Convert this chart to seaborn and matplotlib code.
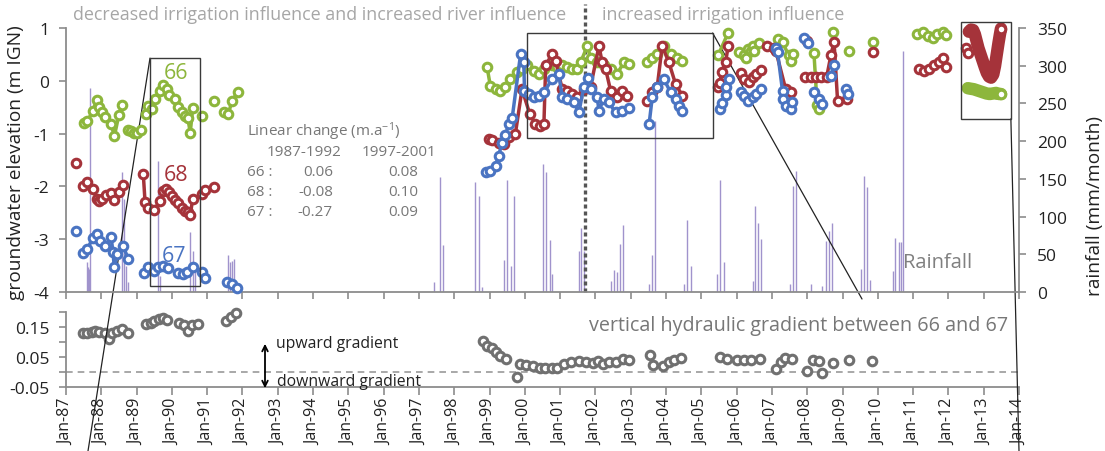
import numpy as np
import pandas as pd
import matplotlib
matplotlib.use("Agg")
import matplotlib.pyplot as plt
from matplotlib.patches import Rectangle, FancyArrowPatch, ConnectionPatch
import seaborn as sns

# ---------------- groundwater heads (m IGN) ----------------
# piezometer 66 (shallow)
w66_year = [1987.51, 1987.60, 1987.76, 1987.87, 1987.94, 1988.01, 1988.11, 1988.28, 1988.37, 1988.50, 1988.60,
            1988.76, 1988.85, 1988.94, 1989.02, 1989.13,
            1989.26, 1989.33, 1989.43, 1989.52, 1989.65, 1989.76, 1989.86, 1989.93, 1990.09, 1990.18, 1990.28,
            1990.37, 1990.45, 1990.52, 1990.59,
            1990.85, 1991.18,
            1991.48, 1991.60, 1991.70, 1991.86,
            1998.93, 1999.02, 1999.17, 1999.31, 1999.45, 1999.59, 1999.78, 1999.92, 2000.06, 2000.25, 2000.39,
            2000.54, 2000.77, 2000.92, 2001.06, 2001.20, 2001.34, 2001.48, 2001.58, 2001.77, 2001.86, 2002.05,
            2002.23, 2002.43, 2002.61, 2002.81, 2002.95,
            2003.47, 2003.61, 2003.75, 2003.94, 2004.13, 2004.32, 2004.46,
            2005.48, 2005.76,
            2006.07, 2006.21, 2006.26, 2006.31, 2006.40, 2006.45, 2006.49, 2006.64,
            2007.16, 2007.30, 2007.47, 2007.53, 2007.60,
            2008.19, 2008.28, 2008.33,
            2008.72, 2009.19, 2009.85,
            2011.12, 2011.27, 2011.41, 2011.55, 2011.69, 2011.84, 2011.93]
w66_elev = [-0.80, -0.77, -0.57, -0.36, -0.50, -0.60, -0.69, -0.82, -1.05, -0.64, -0.45,
            -0.93, -0.96, -0.98, -0.98, -0.93,
            -0.63, -0.47, -0.53, -0.34, -0.19, -0.08, -0.16, -0.27, -0.34, -0.50, -0.60,
            -0.67, -0.70, -0.98, -0.52,
            -0.66, -0.38,
            -0.60, -0.63, -0.38, -0.22,
            0.26, -0.09, -0.16, -0.19, -0.12, 0.03, 0.16, 0.22, 0.29, 0.19, 0.13,
            0.22, 0.29, 0.26, 0.29, 0.26, 0.22, 0.22, 0.35, 0.66, 0.44, 0.35,
            0.29, 0.22, 0.13, 0.35, 0.32,
            0.35, 0.44, 0.51, 0.65, 0.51, 0.44, 0.38,
            0.49, 0.91,
            0.55, 0.48, 0.43, 0.60, 0.56, 0.66, 0.56, 0.72,
            0.80, 0.73, 0.49, 0.38, 0.51,
            0.53, -0.45, -0.53,
            0.92, 0.57, 0.74,
            0.89, 0.92, 0.85, 0.82, 0.89, 0.92, 0.87]
w66_seg = ([0] * 11 + [1] * 5 + [2] * 15 + [3, 4] + [5] * 4 + [6] * 27 + [7] * 7 + [8] * 2 + [9] * 8
           + [10] * 5 + [11] * 3 + [12, 13, 14] + [15] * 7)

# piezometer 68 (intermediate)
w68_year = [1987.28,
            1987.47, 1987.60, 1987.77, 1987.87, 1987.94, 1988.01, 1988.13, 1988.28, 1988.36, 1988.51, 1988.61,
            1989.19, 1989.24, 1989.33, 1989.50, 1989.67, 1989.76, 1989.84, 1989.93, 1990.00, 1990.09, 1990.18,
            1990.28, 1990.37, 1990.45, 1990.52, 1990.59,
            1990.85, 1990.94, 1991.18,
            1998.98, 1999.07, 1999.26, 1999.40, 1999.54, 1999.73, 1999.92, 2000.14, 2000.30, 2000.42, 2000.54,
            2000.59, 2000.77, 2000.87, 2001.06, 2001.20, 2001.34, 2001.48, 2001.67, 2001.86, 2002.10, 2002.19,
            2002.29, 2002.43, 2002.61, 2002.76, 2002.90,
            2003.47, 2003.61, 2003.75, 2003.89, 2004.08, 2004.27, 2004.46,
            2005.48, 2005.52, 2005.58, 2005.69, 2005.76,
            2006.12, 2006.21, 2006.35, 2006.45, 2006.54, 2006.68,
            2006.87, 2007.06, 2007.11, 2007.39, 2007.53,
            2007.98,
            2007.95, 2008.10, 2008.25, 2008.40, 2008.55, 2008.67, 2008.76, 2008.86, 2009.14,
            2009.85,
            2011.17, 2011.31, 2011.45, 2011.59, 2011.73, 2011.84, 2011.93,
            2012.50, 2012.56]
w68_elev = [-1.56,
            -2.00, -1.91, -2.05, -2.23, -2.27, -2.23, -2.16, -2.13, -2.26, -2.11, -1.97,
            -1.77, -2.30, -2.40, -2.44, -2.27, -2.09, -2.04, -2.10, -2.18, -2.25, -2.31,
            -2.40, -2.46, -2.49, -2.55, -2.23,
            -2.14, -2.06, -2.02,
            -1.10, -1.13, -1.17, -1.20, -1.07, -1.01, -0.16, -0.63, -0.82, -0.85, -0.82,
            0.29, 0.51, 0.38, -0.16, -0.19, -0.25, -0.31, -0.16, -0.12, 0.66, 0.35,
            0.22, -0.19, -0.31, -0.19, -0.28,
            -0.38, -0.22, -0.12, 0.66, 0.35, -0.06, -0.28,
            -0.12, -0.04, 0.17, 0.36, 0.66,
            0.14, 0.03, -0.03, 0.07, 0.13, 0.21,
            0.65, 0.63, 0.57, -0.16, -0.22,
            0.75,
            0.07, 0.07, 0.07, 0.07, 0.07, 0.48, 0.74, -0.38, -0.34,
            0.55,
            0.22, 0.19, 0.22, 0.29, 0.35, 0.43, 0.26,
            0.63, 0.52]
w68_seg = ([0] + [1] * 11 + [2] * 16 + [3] * 3 + [4] * 27 + [5] * 7 + [6] * 5 + [7] * 6 + [8] * 5
           + [9] + [10] * 9 + [11] + [12] * 7 + [13] * 2)

# piezometer 67 (deep)
w67_year = [1987.28,
            1987.49, 1987.60, 1987.76, 1987.87, 1987.96, 1988.11, 1988.28, 1988.33, 1988.37, 1988.45, 1988.61, 1988.77,
            1989.21, 1989.33, 1989.48, 1989.62, 1989.76, 1989.90,
            1990.18, 1990.31, 1990.42, 1990.59,
            1990.85, 1990.94,
            1991.56, 1991.70, 1991.84,
            1998.91, 1999.02, 1999.17, 1999.26, 1999.35, 1999.45, 1999.54, 1999.64, 1999.88, 1999.97, 1999.99,
            2000.11, 2000.25, 2000.39, 2000.54, 2000.77, 2000.96, 2001.06, 2001.20, 2001.39, 2001.53, 2001.67,
            2001.78, 2001.86, 2002.05, 2002.10, 2002.23, 2002.38, 2002.57, 2002.76, 2002.95,
            2003.52, 2003.61, 2003.75, 2003.94, 2004.13, 2004.27, 2004.36, 2004.46,
            2005.52, 2005.59, 2005.69, 2005.71, 2005.78,
            2006.12, 2006.21, 2006.31, 2006.45, 2006.54, 2006.68,
            2007.11, 2007.16, 2007.30, 2007.31, 2007.39, 2007.53, 2007.58,
            2007.91, 2008.01,
            2008.19, 2008.33, 2008.43,
            2008.67, 2008.76,
            2009.09, 2009.16]
w67_elev = [-2.84,
            -3.26, -3.19, -2.98, -2.90, -3.03, -3.12, -2.96, -3.25, -3.53, -3.28, -3.12, -3.38,
            -3.64, -3.53, -3.60, -3.53, -3.50, -3.55,
            -3.64, -3.66, -3.62, -3.52,
            -3.63, -3.74,
            -3.82, -3.85, -3.93,
            -1.72, -1.70, -1.61, -1.42, -1.17, -1.03, -0.82, -0.71, 0.51, 0.35, -0.19,
            -0.25, -0.31, -0.28, -0.22, 0.03, 0.13, -0.31, -0.34, -0.41, -0.60, -0.12,
            0.05, -0.16, -0.31, -0.57, -0.34, -0.41, -0.60, -0.57, -0.52,
            -0.82, -0.31, -0.12, 0.03, -0.22, -0.34, -0.47, -0.57,
            -0.53, -0.42, -0.27, -0.12, 0.03,
            -0.22, -0.29, -0.38, -0.31, -0.25, -0.16,
            0.63, 0.54, -0.19, -0.34, -0.47, -0.53, -0.41,
            0.82, 0.72,
            -0.22, -0.34, -0.44,
            0.09, 0.30,
            -0.16, -0.25]
w67_seg = ([0] + [1] * 12 + [2] * 6 + [3] * 4 + [4] * 2 + [5] * 3 + [6] * 31 + [7] * 8 + [8] * 5
           + [9] * 6 + [10] * 7 + [11] * 2 + [12] * 3 + [13] * 2 + [14] * 2)

# high-frequency logger records 2012-2013
log68_year = [2012.58, 2012.64, 2012.70, 2012.75, 2012.80, 2012.85, 2012.91, 2012.97, 2013.03, 2013.09,
              2013.15, 2013.21, 2013.27, 2013.32, 2013.37, 2013.42, 2013.46, 2013.49]
log68_elev = [0.93, 0.97, 0.96, 0.88, 0.75, 0.62, 0.50, 0.38, 0.26, 0.15,
              0.08, 0.06, 0.12, 0.28, 0.50, 0.72, 0.88, 0.99]
log66_year = [2012.55, 2012.63, 2012.72, 2012.81, 2012.90, 2012.99, 2013.08, 2013.17, 2013.26, 2013.35,
              2013.43, 2013.49]
log66_elev = [-0.14, -0.15, -0.16, -0.18, -0.20, -0.22, -0.24, -0.25, -0.24, -0.23, -0.25, -0.25]

# ---------------- monthly rainfall (mm/month) ----------------
rain_year = [1987.60, 1987.63, 1987.65, 1987.68,
             1988.60, 1988.65, 1988.70, 1988.77,
             1989.62, 1989.67,
             1990.52, 1990.59, 1990.66,
             1991.60, 1991.65, 1991.70, 1991.75,
             1997.44, 1997.59, 1997.68,
             1998.60, 1998.69, 1998.78,
             1999.42, 1999.50, 1999.61, 1999.69,
             2000.52, 2000.60, 2000.71, 2000.78,
             2001.53, 2001.60, 2001.67,
             2002.45, 2002.52, 2002.62, 2002.69, 2002.78,
             2003.52, 2003.61, 2003.68,
             2004.51, 2004.60, 2004.70,
             2005.45, 2005.52, 2005.64,
             2006.45, 2006.51, 2006.61, 2006.70,
             2007.51, 2007.61, 2007.69,
             2008.10, 2008.43, 2008.52, 2008.61, 2008.69,
             2009.53, 2009.61, 2009.69, 2009.78,
             2010.43, 2010.50, 2010.60, 2010.65, 2010.70]
rain_mm = [40, 33, 30, 270,
           159, 123, 35, 13,
           174, 21,
           80, 55, 35,
           49, 40, 41, 44,
           13, 152, 62,
           146, 127, 7,
           43, 148, 35, 127,
           170, 159, 69, 24,
           55, 85, 55,
           15, 29, 27, 64, 89,
           11, 49, 227,
           11, 96, 35,
           24, 148, 40,
           15, 114, 91, 70,
           11, 140, 161,
           11, 8, 68, 81, 91,
           30, 154, 139, 16,
           28, 71, 66, 66, 320]

# ---------------- vertical hydraulic gradient 66-67 ----------------
grad_year = [1987.49, 1987.60, 1987.73, 1987.82, 1987.94, 1988.10, 1988.22, 1988.31, 1988.44, 1988.58, 1988.75,
             1989.26, 1989.40, 1989.49, 1989.63, 1989.74, 1989.87,
             1990.19, 1990.33, 1990.47, 1990.56, 1990.75,
             1991.53, 1991.67, 1991.82,
             1998.82, 1998.92, 1999.07, 1999.17, 1999.29, 1999.47, 1999.77, 1999.87, 2000.02, 2000.22, 2000.42,
             2000.57, 2000.77, 2000.92, 2001.12, 2001.32, 2001.52, 2001.72, 2001.92, 2002.07, 2002.22, 2002.37,
             2002.57, 2002.77, 2002.94,
             2003.54, 2003.62, 2003.92, 2004.07, 2004.22, 2004.42,
             2005.52, 2005.72, 2006.02, 2006.22, 2006.42, 2006.67,
             2007.12, 2007.27, 2007.37, 2007.57,
             2008.00, 2008.17, 2008.32, 2008.42, 2008.72, 2009.17, 2009.84]
grad_val = [0.131, 0.129, 0.133, 0.137, 0.133, 0.129, 0.111, 0.129, 0.137, 0.144, 0.129,
            0.159, 0.162, 0.170, 0.176, 0.181, 0.173,
            0.162, 0.156, 0.137, 0.156, 0.159,
            0.170, 0.184, 0.197,
            0.105, 0.088, 0.079, 0.066, 0.054, 0.045, -0.018, 0.026, 0.023, 0.021, 0.015,
            0.012, 0.015, 0.013, 0.028, 0.033, 0.036, 0.033, 0.030, 0.036, 0.028, 0.033,
            0.033, 0.044, 0.041,
            0.057, 0.023, 0.020, 0.033, 0.041, 0.047,
            0.051, 0.044, 0.041, 0.041, 0.041, 0.044,
            0.009, 0.033, 0.047, 0.044,
            0.002, 0.039, 0.036, -0.003, 0.030, 0.039, 0.036]

year_ticks = list(range(1987, 2015))
year_labels = ["Jan-%02d" % (y % 100) for y in year_ticks]
elev_ticks = [-4, -3, -2, -1, 0, 1]
rain_ticks = [0, 50, 100, 150, 200, 250, 300, 350]
grad_ticks = [-0.05, 0.05, 0.15]

GREEN, RED, BLUE = "#8db63c", "#a5333a", "#4a74c2"
GREY_PT = "#707070"
AXC = "#8c8c8c"
TXT = "#222222"
LIGHT = "#a6a6a6"
MS, MEW = 38, 2.2

sns.set_theme(style="ticks")
plt.rcParams["font.family"] = ["Open Sans", "DejaVu Sans"]
plt.rcParams["axes.unicode_minus"] = False
plt.rcParams["mathtext.default"] = "regular"

W, H = 1105, 452
fig = plt.figure(figsize=(W / 100, H / 100), dpi=100)


def fx(px):
    return px / W


def fy(py):
    return 1 - py / H


ax = fig.add_axes([fx(66), fy(293), fx(1019) - fx(66), fy(29) - fy(293)])
axr = ax.twinx()
axg = fig.add_axes([fx(66), fy(388), fx(1019) - fx(66), fy(313) - fy(388)])
ax.set_zorder(axr.get_zorder() + 1)
ax.patch.set_visible(False)
axg.patch.set_visible(False)

# rainfall as thin monthly bars
axr.vlines(rain_year, 0, rain_mm, color="#a093cc", lw=1.0)
axr.set_ylim(0, 350)
axr.set_yticks(rain_ticks)

# heads: lines per continuous record, open circles per measurement
wells = [(w66_year, w66_elev, w66_seg, GREEN),
         (w68_year, w68_elev, w68_seg, RED),
         (w67_year, w67_elev, w67_seg, BLUE)]
for i, (yr, el, sg, col) in enumerate(wells):
    df = pd.DataFrame({"year": yr, "elev": el, "seg": sg})
    sns.lineplot(data=df, x="year", y="elev", units="seg", estimator=None, sort=False,
                 color=col, lw=2.5, ax=ax, legend=False, zorder=3 + i * 0.2, clip_on=False)
    sns.scatterplot(data=df, x="year", y="elev", color="white", edgecolor=col, linewidth=MEW,
                    s=MS, ax=ax, legend=False, zorder=3.1 + i * 0.2, clip_on=False)

for yr, el, col in [(log66_year, log66_elev, GREEN), (log68_year, log68_elev, RED)]:
    dfl = pd.DataFrame({"year": yr, "elev": el})
    sns.lineplot(data=dfl, x="year", y="elev", estimator=None, sort=False, color=col, lw=9,
                 solid_capstyle="round", solid_joinstyle="round", ax=ax, legend=False,
                 zorder=3.8, clip_on=False)
    sns.scatterplot(data=dfl.tail(1), x="year", y="elev", color="white", edgecolor=col,
                    linewidth=MEW, s=MS, ax=ax, legend=False, zorder=3.9, clip_on=False)

ax.set_xlim(1987, 2014)
ax.set_ylim(-4, 1)
ax.set_yticks(elev_ticks)
ax.set_yticklabels([str(v) for v in elev_ticks])
ax.set_xticks(year_ticks)
ax.set_xticklabels([])
ax.set_xlabel("")
ax.set_ylabel("")

# gradient panel
dfg = pd.DataFrame({"year": grad_year, "grad": grad_val})
axg.axhline(0, color="#9a9a9a", lw=1.2, ls=(0, (4, 3)), zorder=1)
sns.scatterplot(data=dfg, x="year", y="grad", color="white", edgecolor=GREY_PT, linewidth=MEW,
                s=MS, ax=axg, legend=False, zorder=3, clip_on=False)
axg.set_xlim(1987, 2014)
axg.set_ylim(-0.05, 0.2)
axg.set_yticks(grad_ticks)
axg.set_yticklabels(["%.2f" % v for v in grad_ticks])
axg.set_yticks([0.0, 0.1, 0.2], minor=True)
axg.set_xticks(year_ticks)
axg.set_xticklabels(year_labels, rotation=90)
axg.set_xlabel("")
axg.set_ylabel("")

# spines and ticks
for a in (ax, axr, axg):
    for s in a.spines.values():
        s.set_visible(False)
        s.set_color(AXC)
        s.set_linewidth(1.3)
ax.spines["left"].set_visible(True)
ax.spines["bottom"].set_visible(True)
axr.spines["right"].set_visible(True)
axg.spines["left"].set_visible(True)
axg.spines["bottom"].set_visible(True)

ax.tick_params(axis="x", length=5, width=1.2, color=AXC, direction="out")
ax.tick_params(axis="y", length=5, width=1.2, color=AXC, labelsize=12.5, labelcolor=TXT, pad=7)
axr.tick_params(axis="y", length=5, width=1.2, color=AXC, labelsize=12.5, labelcolor=TXT, pad=8)
axg.tick_params(axis="x", length=6, width=1.2, color=AXC, labelsize=11.5, labelcolor=TXT, pad=2)
axg.tick_params(axis="y", which="both", length=5, width=1.2, color=AXC, labelsize=12.5,
                labelcolor=TXT, pad=7)

# axis titles
fig.text(fx(16), fy(163), "groundwater elevation (m IGN)", rotation=90, ha="center", va="center",
         fontsize=13.8, color=TXT)
fig.text(fx(1095), fy(206), "rainfall (mm/month)", rotation=90, ha="center", va="center",
         fontsize=13.8, color=TXT)

# period separation and headings
ax.plot([2001.70, 2001.70], [-4, 1.46], color="#555555", lw=2.4, ls=(0, (1.2, 0.9)),
        clip_on=False, zorder=2)
fig.text(fx(73), fy(15), "decreased irrigation influence and increased river influence",
         ha="left", va="center", fontsize=12.9, color=LIGHT)
fig.text(fx(602), fy(15), "increased irrigation influence", ha="left", va="center",
         fontsize=12.9, color=LIGHT)

# well labels
ax.text(1990.12, 0.15, "66", color=GREEN, fontsize=15.5, ha="center", va="center", zorder=5)
ax.text(1990.12, -1.78, "68", color=RED, fontsize=15.5, ha="center", va="center", zorder=5)
ax.text(1990.06, -3.30, "67", color=BLUE, fontsize=15.5, ha="center", va="center", zorder=5)

# trend table
TAB = "#777777"
fig.text(fx(247), fy(132), "Linear change (m.a$^{-1}$)", ha="left", va="center", fontsize=11, color=TAB)
fig.text(fx(267), fy(152), "1987-1992", ha="left", va="center", fontsize=11, color=TAB)
fig.text(fx(362), fy(152), "1997-2001", ha="left", va="center", fontsize=11, color=TAB)
rows = [("66 :", "0.06", "0.08"), ("68 :", "-0.08", "0.10"), ("67 :", "-0.27", "0.09")]
for k, (w, a1, a2) in enumerate(rows):
    yy = fy(173 + 20 * k)
    fig.text(fx(247), yy, w, ha="left", va="center", fontsize=11, color=TAB)
    fig.text(fx(333), yy, a1, ha="right", va="center", fontsize=11, color=TAB)
    fig.text(fx(418), yy, a2, ha="right", va="center", fontsize=11, color=TAB)

fig.text(fx(903), fy(263), "Rainfall", ha="left", va="center", fontsize=14.5, color="#808080")
fig.text(fx(589), fy(326), "vertical hydraulic gradient between 66 and 67", ha="left", va="center",
         fontsize=14.2, color="#777777")

# gradient direction arrow
fig.add_artist(FancyArrowPatch((fx(265), fy(342)), (fx(265), fy(392)), transform=fig.transFigure,
                               arrowstyle="<->", mutation_scale=10, lw=1.3, color="black"))
fig.text(fx(276), fy(344), "upward gradient", ha="left", va="center", fontsize=11.3, color=TXT)
fig.text(fx(277), fy(382), "downward gradient", ha="left", va="center", fontsize=11.3, color=TXT)

# highlighted periods with callout lines
boxes = [((1989.38, -3.89), 1.42, 4.32, (1989.38, 0.43), (88, 452)),
         ((2000.05, -1.08), 5.27, 1.985, (2005.32, 0.905), (862, 300)),
         ((2012.35, -0.72), 1.42, 1.83, (2013.77, -0.72), (1019, 452))]
for (x0, y0), w, h, corner, target in boxes:
    ax.add_patch(Rectangle((x0, y0), w, h, fill=False, edgecolor="#3a3a3a", lw=1.0,
                           clip_on=False, zorder=6))
    fig.add_artist(ConnectionPatch(xyA=corner, coordsA=ax.transData,
                                   xyB=(fx(target[0]), fy(target[1])), coordsB=fig.transFigure,
                                   color="#222222", lw=0.9))

fig.savefig("out.png", dpi=100)
